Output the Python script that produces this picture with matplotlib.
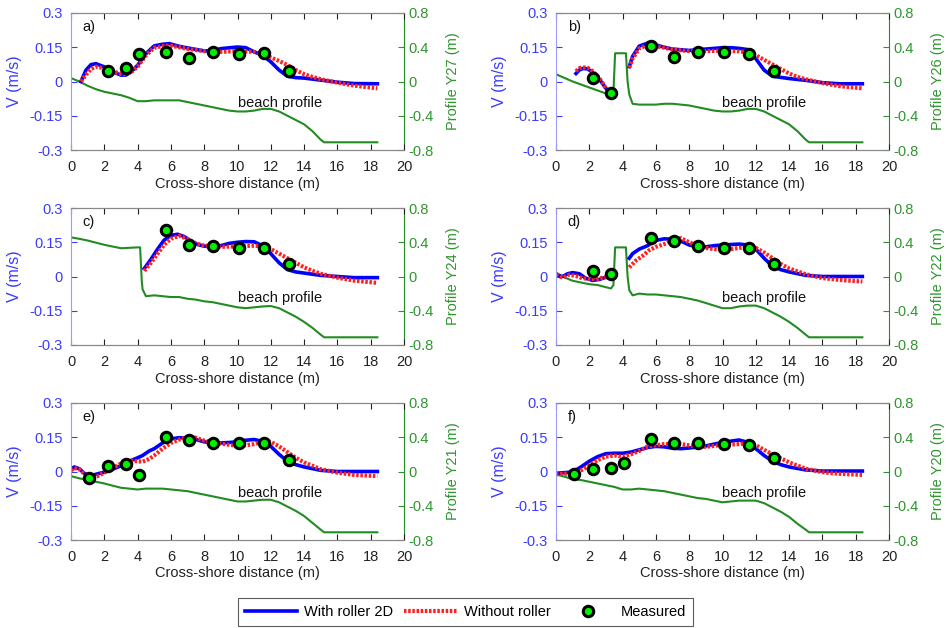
import numpy as np
import matplotlib
matplotlib.use("Agg")
import matplotlib.pyplot as plt
from matplotlib.lines import Line2D

plt.rcParams['font.family'] = ['Liberation Sans', 'DejaVu Sans']
plt.rcParams['font.size'] = 10

nan = np.nan
panel_labels = ['a)', 'b)', 'c)', 'd)', 'e)', 'f)']
profile_names = ['Profile Y27 (m)', 'Profile Y26 (m)', 'Profile Y24 (m)',
                 'Profile Y22 (m)', 'Profile Y21 (m)', 'Profile Y20 (m)']

# ---------------- panel a ----------------
a_roll_x = [0.6, 0.9, 1.2, 1.5, 2.0, 2.5, 3.0, 3.3, 3.6, 4.0, 4.5, 5.0, 5.5, 5.9, 6.5, 7.0, 8.0, 8.5, 9.0, 10.0, 10.5, 11.0, 11.5, 12.0, 12.5, 13.0, 13.5, 14.0, 15.0, 16.0, 17.0, 18.4]
a_roll_v = [0.0, 0.05, 0.074, 0.078, 0.064, 0.042, 0.028, 0.028, 0.042, 0.071, 0.122, 0.156, 0.163, 0.166, 0.154, 0.147, 0.134, 0.135, 0.144, 0.151, 0.148, 0.13, 0.115, 0.086, 0.05, 0.023, 0.017, 0.015, 0.006, -0.003, -0.009, -0.01]
a_noroll_x = [0.6, 0.9, 1.2, 1.5, 2.0, 2.5, 3.0, 3.3, 3.6, 4.0, 4.5, 5.0, 5.5, 5.9, 6.5, 7.0, 8.0, 9.0, 10.0, 11.0, 11.5, 12.0, 12.5, 13.0, 13.5, 14.0, 14.5, 15.0, 16.0, 17.0, 18.4]
a_noroll_v = [0.0, 0.03, 0.055, 0.065, 0.058, 0.045, 0.033, 0.032, 0.04, 0.065, 0.115, 0.148, 0.155, 0.158, 0.15, 0.143, 0.133, 0.13, 0.133, 0.13, 0.12, 0.105, 0.09, 0.072, 0.05, 0.032, 0.02, 0.01, -0.005, -0.018, -0.03]
a_meas_x = [2.2, 3.3, 4.1, 5.7, 7.1, 8.5, 10.1, 11.6, 13.1]
a_meas_v = [0.045, 0.057, 0.119, 0.13, 0.103, 0.13, 0.122, 0.125, 0.045]
a_prof_x = [0, 0.5, 1, 1.5, 2, 2.5, 3, 3.5, 4, 4.5, 5, 5.5, 6, 6.5, 7, 7.5, 8, 8.5, 9, 9.5, 10, 10.5, 11, 11.5, 12, 12.5, 13, 13.5, 14, 14.5, 15, 15.2, 16, 17, 18.4]
a_prof_z = [0.04, 0.0, -0.05, -0.09, -0.12, -0.14, -0.16, -0.19, -0.23, -0.23, -0.22, -0.22, -0.22, -0.22, -0.24, -0.26, -0.28, -0.30, -0.32, -0.34, -0.35, -0.35, -0.34, -0.32, -0.32, -0.35, -0.40, -0.45, -0.50, -0.58, -0.68, -0.71, -0.71, -0.71, -0.71]

# ---------------- panel b ----------------
b_roll_x = [1.2, 1.4, 1.6, 1.9, 2.2, 2.6, 3.0, 3.3, nan, 4.4, 4.6, 5.0, 5.5, 6.0, 6.5, 7.0, 8.0, 9.0, 10.0, 10.5, 11.0, 11.5, 12.0, 12.5, 13.0, 14.0, 15.0, 16.0, 17.0, 18.4]
b_roll_v = [0.035, 0.05, 0.057, 0.055, 0.04, 0.01, -0.03, -0.055, nan, 0.065, 0.11, 0.155, 0.168, 0.16, 0.15, 0.142, 0.136, 0.142, 0.148, 0.148, 0.145, 0.14, 0.1, 0.05, 0.023, 0.013, 0.005, -0.005, -0.01, -0.01]
b_noroll_x = [1.2, 1.4, 1.6, 1.9, 2.2, 2.6, 3.0, 3.3, nan, 4.4, 4.6, 5.0, 5.5, 6.0, 6.5, 7.0, 8.0, 9.0, 10.0, 11.0, 11.5, 12.0, 12.5, 13.0, 13.5, 14.0, 14.5, 15.0, 16.0, 17.0, 18.4]
b_noroll_v = [0.045, 0.058, 0.062, 0.06, 0.045, 0.015, -0.03, -0.055, nan, 0.06, 0.1, 0.145, 0.16, 0.155, 0.148, 0.14, 0.133, 0.133, 0.135, 0.132, 0.128, 0.115, 0.095, 0.075, 0.055, 0.035, 0.02, 0.01, -0.007, -0.02, -0.03]
b_meas_x = [2.2, 3.3, 5.7, 7.1, 8.5, 10.1, 11.6, 13.1]
b_meas_v = [0.017, -0.052, 0.157, 0.108, 0.128, 0.128, 0.122, 0.048]
b_prof_x = [0, 1, 2, 3, 3.3, 3.45, 3.55, 3.7, 4.2, 4.3, 4.4, 4.6, 5, 5.5, 6, 6.5, 7, 7.5, 8, 8.5, 9, 9.5, 10, 10.5, 11, 11.5, 12, 12.5, 13, 13.5, 14, 14.5, 15, 15.2, 16, 17, 18.4]
b_prof_z = [0.085, 0.0, -0.07, -0.14, -0.16, -0.12, 0.33, 0.33, 0.33, 0.0, -0.15, -0.26, -0.27, -0.27, -0.27, -0.26, -0.26, -0.27, -0.28, -0.30, -0.32, -0.34, -0.35, -0.35, -0.34, -0.32, -0.32, -0.35, -0.40, -0.45, -0.50, -0.58, -0.68, -0.71, -0.71, -0.71, -0.71]

# ---------------- panel c ----------------
c_roll_x = [4.4, 4.8, 5.2, 5.6, 6.0, 6.4, 6.8, 7.2, 7.6, 8.0, 8.5, 9.0, 9.5, 10.0, 10.5, 11.0, 11.5, 12.0, 12.5, 13.0, 13.5, 14.0, 15.0, 16.0, 17.0, 18.4]
c_roll_v = [0.035, 0.075, 0.12, 0.16, 0.18, 0.185, 0.175, 0.155, 0.14, 0.133, 0.13, 0.135, 0.145, 0.15, 0.153, 0.152, 0.135, 0.1, 0.06, 0.03, 0.02, 0.015, 0.005, 0.0, -0.005, -0.005]
c_noroll_x = [4.4, 4.8, 5.2, 5.6, 6.0, 6.5, 7.0, 7.5, 8.0, 9.0, 10.0, 11.0, 11.5, 12.0, 12.5, 13.0, 13.5, 14.0, 14.5, 15.0, 16.0, 17.0, 18.4]
c_noroll_v = [0.025, 0.06, 0.1, 0.14, 0.165, 0.178, 0.165, 0.145, 0.135, 0.13, 0.132, 0.135, 0.132, 0.12, 0.1, 0.08, 0.06, 0.04, 0.025, 0.012, -0.005, -0.018, -0.028]
c_meas_x = [5.7, 7.1, 8.5, 10.1, 11.6, 13.1]
c_meas_v = [0.205, 0.139, 0.132, 0.124, 0.127, 0.056]
c_prof_x = [0, 0.5, 1, 1.5, 2, 2.5, 3, 3.5, 4, 4.15, 4.25, 4.3, 4.5, 5, 5.5, 6, 6.5, 7, 7.5, 8, 8.5, 9, 9.5, 10, 10.5, 11, 11.5, 12, 12.5, 13, 13.5, 14, 14.5, 15, 15.2, 16, 17, 18.4]
c_prof_z = [0.457, 0.44, 0.42, 0.395, 0.37, 0.35, 0.33, 0.335, 0.34, 0.34, -0.05, -0.15, -0.23, -0.22, -0.23, -0.24, -0.24, -0.26, -0.27, -0.29, -0.30, -0.32, -0.34, -0.36, -0.37, -0.36, -0.35, -0.345, -0.37, -0.42, -0.47, -0.53, -0.60, -0.68, -0.71, -0.71, -0.71, -0.71]

# ---------------- panel d ----------------
d_roll_x = [0, 0.4, 0.7, 1.0, 1.4, 1.8, 2.2, 2.6, 3.0, 3.3, nan, 4.4, 4.6, 5.0, 5.5, 6.0, 6.5, 7.0, 7.5, 8.0, 8.5, 9.0, 9.5, 10.0, 10.5, 11.0, 11.5, 12.0, 12.5, 13.0, 13.5, 14.0, 15.0, 16.0, 18.4]
d_roll_v = [0.005, 0.0, 0.012, 0.017, 0.012, -0.008, -0.017, -0.013, -0.003, 0.005, nan, 0.08, 0.1, 0.12, 0.135, 0.158, 0.165, 0.163, 0.155, 0.138, 0.13, 0.13, 0.135, 0.138, 0.14, 0.142, 0.138, 0.12, 0.08, 0.045, 0.03, 0.02, 0.005, 0.0, 0.0]
d_noroll_x = [0, 0.4, 0.8, 1.2, 1.6, 2.0, 2.4, 2.8, 3.3, nan, 4.4, 4.8, 5.2, 5.6, 6.0, 6.5, 7.0, 7.5, 8.0, 8.5, 9.0, 9.5, 10.0, 10.5, 11.0, 11.5, 12.0, 12.5, 13.0, 13.5, 14.0, 15.0, 16.0, 17.0, 18.4]
d_noroll_v = [0.005, -0.005, 0.008, 0.002, -0.008, -0.01, -0.012, -0.005, 0.0, nan, 0.04, 0.07, 0.09, 0.115, 0.13, 0.142, 0.16, 0.168, 0.15, 0.135, 0.125, 0.12, 0.118, 0.12, 0.125, 0.13, 0.125, 0.105, 0.08, 0.055, 0.035, 0.01, -0.007, -0.015, -0.022]
d_meas_x = [2.2, 3.3, 5.7, 7.1, 8.5, 10.1, 11.6, 13.1]
d_meas_v = [0.022, 0.013, 0.168, 0.155, 0.135, 0.126, 0.126, 0.056]
d_prof_x = [0, 0.5, 1, 1.5, 2, 2.5, 3, 3.3, 3.45, 3.55, 4.2, 4.3, 4.4, 4.6, 5, 5.5, 6, 6.5, 7, 7.5, 8, 8.5, 9, 9.5, 10, 10.5, 11, 11.5, 12, 12.5, 13, 13.5, 14, 14.5, 15, 15.2, 16, 17, 18.4]
d_prof_z = [0.047, -0.01, -0.05, -0.07, -0.09, -0.10, -0.125, -0.14, -0.10, 0.34, 0.34, 0.0, -0.16, -0.22, -0.20, -0.21, -0.21, -0.22, -0.23, -0.24, -0.26, -0.28, -0.31, -0.34, -0.37, -0.37, -0.35, -0.34, -0.34, -0.37, -0.42, -0.47, -0.53, -0.60, -0.68, -0.71, -0.71, -0.71, -0.71]

# ---------------- panel e ----------------
e_roll_x = [0, 0.2, 0.5, 0.8, 1.1, 1.5, 2.0, 2.5, 3.0, 3.5, 4.0, 4.3, 4.7, 5.0, 5.5, 6.0, 6.5, 7.0, 7.5, 8.0, 8.5, 9.0, 9.5, 10.0, 10.5, 11.0, 11.5, 12.0, 12.5, 13.0, 13.5, 14.0, 15.0, 16.0, 18.4]
e_roll_v = [0.01, 0.02, 0.012, -0.008, -0.02, -0.012, -0.003, 0.01, 0.025, 0.045, 0.06, 0.07, 0.09, 0.1, 0.125, 0.143, 0.148, 0.147, 0.14, 0.13, 0.125, 0.125, 0.127, 0.13, 0.137, 0.14, 0.132, 0.11, 0.075, 0.045, 0.03, 0.02, 0.005, 0.0, 0.0]
e_noroll_x = [0, 0.2, 0.5, 0.8, 1.2, 1.6, 2.0, 2.5, 3.0, 3.5, 4.0, 4.3, 4.7, 5.0, 5.5, 6.0, 6.5, 7.0, 7.5, 8.0, 8.5, 9.0, 9.5, 10.0, 10.5, 11.0, 11.5, 12.0, 12.5, 13.0, 13.5, 14.0, 15.0, 16.0, 17.0, 18.4]
e_noroll_v = [0.005, 0.015, 0.01, -0.01, -0.025, -0.02, -0.005, 0.015, 0.035, 0.048, 0.045, 0.043, 0.055, 0.07, 0.1, 0.125, 0.14, 0.15, 0.148, 0.135, 0.128, 0.122, 0.117, 0.113, 0.115, 0.12, 0.13, 0.13, 0.11, 0.085, 0.06, 0.04, 0.01, -0.005, -0.015, -0.02]
e_meas_x = [1.1, 2.2, 3.3, 4.1, 5.7, 7.1, 8.5, 10.1, 11.6, 13.1]
e_meas_v = [-0.028, 0.026, 0.032, -0.015, 0.151, 0.138, 0.127, 0.124, 0.125, 0.051]
e_prof_x = [0, 0.5, 1, 1.5, 2, 2.5, 3, 3.5, 4, 4.5, 5, 5.5, 6, 6.5, 7, 7.5, 8, 8.5, 9, 9.5, 10, 10.5, 11, 11.5, 12, 12.5, 13, 13.5, 14, 14.5, 15, 15.2, 16, 17, 18.4]
e_prof_z = [-0.054, -0.08, -0.10, -0.12, -0.14, -0.165, -0.19, -0.20, -0.21, -0.20, -0.20, -0.20, -0.21, -0.22, -0.23, -0.25, -0.27, -0.29, -0.31, -0.33, -0.35, -0.35, -0.34, -0.33, -0.33, -0.36, -0.41, -0.46, -0.52, -0.60, -0.68, -0.71, -0.71, -0.71, -0.71]

# ---------------- panel f ----------------
f_roll_x = [0, 0.5, 1.0, 1.5, 2.0, 2.5, 3.0, 3.5, 4.0, 4.5, 5.0, 5.5, 6.0, 6.5, 7.0, 7.5, 8.0, 8.5, 9.0, 9.5, 10.0, 10.5, 11.0, 11.5, 12.0, 12.5, 13.0, 13.5, 14.0, 15.0, 16.0, 18.4]
f_roll_v = [-0.008, -0.005, -0.002, 0.02, 0.045, 0.065, 0.078, 0.08, 0.08, 0.085, 0.095, 0.105, 0.11, 0.108, 0.102, 0.1, 0.103, 0.107, 0.112, 0.12, 0.127, 0.133, 0.138, 0.128, 0.1, 0.07, 0.045, 0.03, 0.02, 0.007, 0.002, 0.002]
f_noroll_x = [0, 0.5, 1.0, 1.5, 2.0, 2.5, 3.0, 3.5, 4.0, 4.5, 5.0, 5.5, 6.0, 6.5, 7.0, 7.5, 8.0, 8.5, 9.0, 9.5, 10.0, 10.5, 11.0, 11.5, 12.0, 12.5, 13.0, 13.5, 14.0, 15.0, 16.0, 17.0, 18.4]
f_noroll_v = [-0.012, -0.01, -0.008, 0.005, 0.025, 0.05, 0.065, 0.07, 0.065, 0.075, 0.09, 0.11, 0.115, 0.12, 0.12, 0.12, 0.115, 0.11, 0.108, 0.112, 0.117, 0.118, 0.12, 0.125, 0.115, 0.095, 0.075, 0.058, 0.04, 0.012, -0.003, -0.01, -0.015]
f_meas_x = [1.1, 2.2, 3.3, 4.1, 5.7, 7.1, 8.5, 10.1, 11.6, 13.1]
f_meas_v = [-0.012, 0.012, 0.017, 0.038, 0.143, 0.127, 0.127, 0.121, 0.118, 0.057]
f_prof_x = [0, 0.5, 1, 1.5, 2, 2.5, 3, 3.5, 4, 4.5, 5, 5.5, 6, 6.5, 7, 7.5, 8, 8.5, 9, 9.5, 10, 10.5, 11, 11.5, 12, 12.5, 13, 13.5, 14, 14.5, 15, 15.2, 16, 17, 18.4]
f_prof_z = [-0.035, -0.06, -0.09, -0.10, -0.12, -0.14, -0.16, -0.18, -0.21, -0.21, -0.20, -0.21, -0.22, -0.23, -0.25, -0.27, -0.29, -0.31, -0.32, -0.34, -0.36, -0.35, -0.34, -0.34, -0.34, -0.37, -0.42, -0.47, -0.53, -0.61, -0.68, -0.71, -0.71, -0.71, -0.71]

v_ticks = [-0.3, -0.15, 0, 0.15, 0.3]
v_ticklabels = ['-0.3', '-0.15', '0', '0.15', '0.3']
z_ticks = [-0.8, -0.4, 0, 0.4, 0.8]
z_ticklabels = ['-0.8', '-0.4', '0', '0.4', '0.8']
x_ticks = [0, 2, 4, 6, 8, 10, 12, 14, 16, 18, 20]

panels = [
    (a_roll_x, a_roll_v, a_noroll_x, a_noroll_v, a_meas_x, a_meas_v, a_prof_x, a_prof_z),
    (b_roll_x, b_roll_v, b_noroll_x, b_noroll_v, b_meas_x, b_meas_v, b_prof_x, b_prof_z),
    (c_roll_x, c_roll_v, c_noroll_x, c_noroll_v, c_meas_x, c_meas_v, c_prof_x, c_prof_z),
    (d_roll_x, d_roll_v, d_noroll_x, d_noroll_v, d_meas_x, d_meas_v, d_prof_x, d_prof_z),
    (e_roll_x, e_roll_v, e_noroll_x, e_noroll_v, e_meas_x, e_meas_v, e_prof_x, e_prof_z),
    (f_roll_x, f_roll_v, f_noroll_x, f_noroll_v, f_meas_x, f_meas_v, f_prof_x, f_prof_z),
]

BLUE_TXT = '#3b3bff'
GREEN_TXT = '#2f962f'
GREEN_LINE = '#238b23'
RED_STYLE = dict(color='#ff2020', lw=3.0, linestyle=(0, (0.6, 0.4)))
BLUE_STYLE = dict(color='#0000ff', lw=2.6)
MEAS_STYLE = dict(linestyle='none', marker='o', ms=7.5, mfc='#00ee00', mec='black', mew=2.2)

fig = plt.figure(figsize=(9.48, 6.28), dpi=100)
W, H = 948, 628
lefts = [71, 556]
tops = [13, 208, 403]
aw, ah = 333, 137

for i, (rx, rv, nx, nv, mx, mv, px, pz) in enumerate(panels):
    row, col = divmod(i, 2)
    l = lefts[col] / W
    b = 1 - (tops[row] + ah) / H
    ax = fig.add_axes([l, b, aw / W, ah / H])
    ax2 = ax.twinx()
    ax.set_zorder(ax2.get_zorder() + 1)
    ax.patch.set_visible(False)

    ax2.plot(px, pz, color=GREEN_LINE, lw=1.5)
    ax2.set_ylim(-0.8, 0.8)
    ax2.set_yticks(z_ticks)
    ax2.set_yticklabels(z_ticklabels)
    ax2.tick_params(axis='y', colors=GREEN_TXT, direction='in', length=4, labelsize=10.5, pad=3)
    ax2.set_ylabel(profile_names[i], color=GREEN_TXT, fontsize=10.5, labelpad=9)

    ax.plot(rx, rv, **BLUE_STYLE)
    ax.plot(nx, nv, **RED_STYLE)
    ax.plot(mx, mv, **MEAS_STYLE)
    ax.set_xlim(0, 20)
    ax.set_ylim(-0.3, 0.3)
    ax.set_xticks(x_ticks)
    ax.set_yticks(v_ticks)
    ax.set_yticklabels(v_ticklabels)
    ax.tick_params(axis='x', direction='in', length=4, top=True, labelsize=10.5, colors='#222222', pad=7)
    ax.tick_params(axis='y', direction='in', length=4, colors=BLUE_TXT, labelsize=10.5, pad=6)
    ax.set_xlabel('Cross-shore distance (m)', fontsize=10.5, color='#222222', labelpad=2)
    ax.set_ylabel('V (m/s)', color=BLUE_TXT, fontsize=11.5, labelpad=5)
    ax.text(0.7, 0.24, panel_labels[i], fontsize=10.5, va='center', ha='left', color='#111111')
    ax.text(10.0, -0.095, 'beach profile', fontsize=10.5, va='center', ha='left', color='#111111')

    for a in (ax, ax2):
        a.spines['top'].set_color('#888888')
        a.spines['bottom'].set_color('#888888')
        a.spines['left'].set_color('#9a9aff')
        a.spines['right'].set_color(GREEN_LINE)
        for s in a.spines.values():
            s.set_linewidth(0.8)
    ax.spines['right'].set_visible(False)
    ax2.spines['left'].set_visible(False)

handles = [Line2D([], [], **BLUE_STYLE),
           Line2D([], [], **RED_STYLE),
           Line2D([], [], **MEAS_STYLE)]
leg = fig.legend(handles, ['With roller 2D', 'Without roller', 'Measured'],
                 loc='center', bbox_to_anchor=(465.5 / W, 1 - 612 / H), ncol=3,
                 fontsize=10.5, frameon=True, fancybox=False, edgecolor='#333333',
                 handlelength=3.6, columnspacing=0.8, handletextpad=0.45,
                 borderpad=0.45)
leg.get_frame().set_linewidth(0.8)

fig.savefig('out.png', dpi=100)
